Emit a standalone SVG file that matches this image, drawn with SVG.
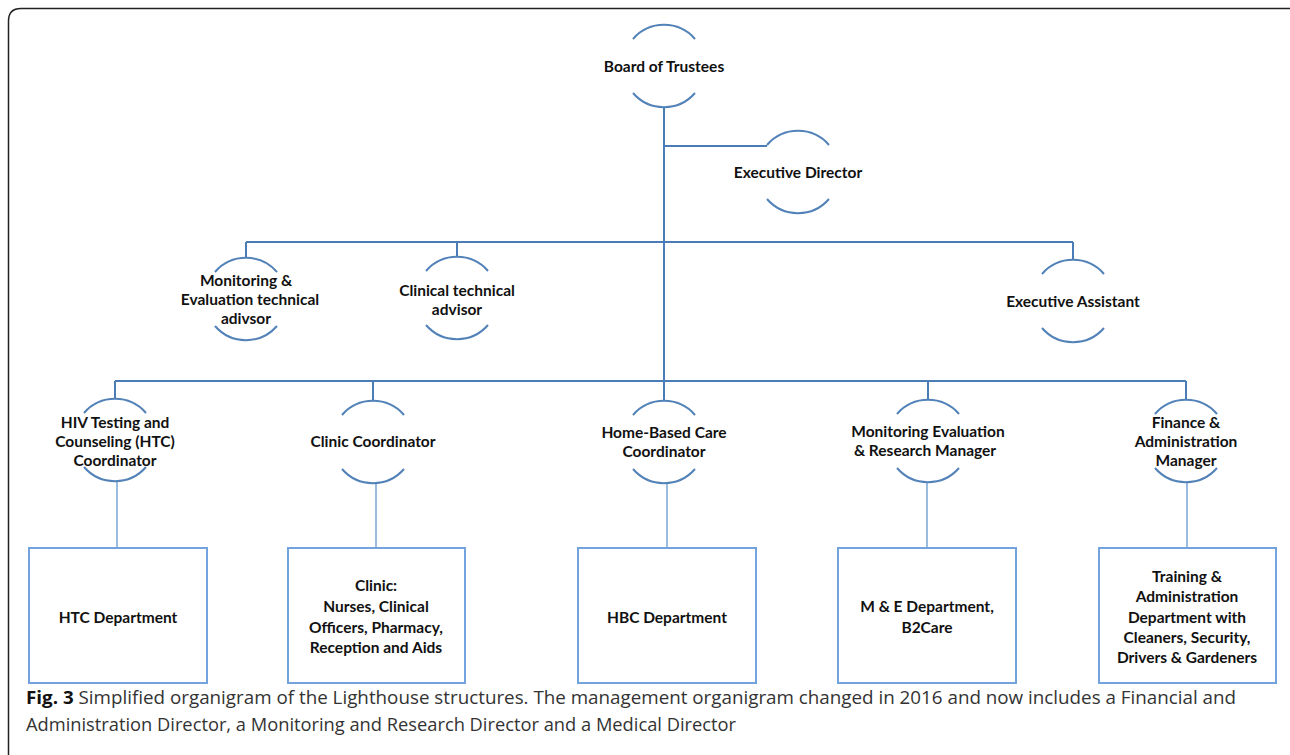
<svg xmlns="http://www.w3.org/2000/svg" xmlns:xlink="http://www.w3.org/1999/xlink" width="1290" height="755" viewBox="0 0 1290 755">
<style>
.arc{fill:none;stroke:#5282b8;stroke-width:2}
.bus{fill:none;stroke:#4a7cb5;stroke-width:2}
.drop{fill:none;stroke:#7aa6d8;stroke-width:1.5}
.box{fill:#fff;stroke:#72a3dc;stroke-width:2}
.t{font-family:Lato,"Liberation Sans",sans-serif;font-weight:bold;font-size:15.5px;fill:#111;text-anchor:middle;dominant-baseline:central}
.cap{font-family:"Open Sans","Liberation Sans",sans-serif;font-size:18.5px;fill:#333}
.frame{fill:none;stroke:#222;stroke-width:1.5}
</style>
<defs>
<path id="arcs" d="M -31 -27 A 41 41 0 0 1 31 -27 M -31 27 A 41 41 0 0 0 31 27"/>
</defs>
<rect width="1290" height="755" fill="#fff"/>
<path class="frame" d="M 8.5 755 V 21 Q 8.5 8.5 21 8.5 H 1290"/>
<g id="connectors">
<path class="bus" d="M 664 107 V 381"/>
<path class="bus" d="M 664 146 H 767"/>
<path class="bus" d="M 246 242 H 1073 M 246 242 V 258 M 457 242 V 256 M 1073 242 V 260"/>
<path class="bus" d="M 115 381 H 1186 M 115 381 V 399 M 373 381 V 401 M 664 381 V 401 M 928 381 V 400 M 1186 381 V 400"/>
<path class="drop" d="M 117 481 V 548 M 376 482 V 548 M 667 483 V 548 M 927 482 V 548 M 1187 482 V 548"/>
</g>
<g id="board"><use href="#arcs" x="664" y="66" class="arc"/><text class="t" x="664" y="66">Board of Trustees</text></g>
<g id="exec-director"><use href="#arcs" x="798" y="172" class="arc"/><text class="t" x="798" y="172">Executive Director</text></g>
<g id="me-advisor"><use href="#arcs" x="246" y="299" class="arc"/><text class="t" x="246" y="280">Monitoring &amp;</text><text class="t" x="250" y="299">Evaluation technical</text><text class="t" x="246" y="318">adivsor</text></g>
<g id="clinical-advisor"><use href="#arcs" x="457" y="298" class="arc"/><text class="t" x="457" y="290">Clinical technical</text><text class="t" x="457" y="309">advisor</text></g>
<g id="exec-assistant"><use href="#arcs" x="1073" y="301" class="arc"/><text class="t" x="1073" y="301">Executive Assistant</text></g>
<g id="htc-coord"><use href="#arcs" x="115" y="440" class="arc"/><text class="t" x="115" y="422">HIV Testing and</text><text class="t" x="115" y="441">Counseling (HTC)</text><text class="t" x="115" y="460">Coordinator</text></g>
<g id="clinic-coord"><use href="#arcs" x="373" y="442" class="arc"/><text class="t" x="373" y="441">Clinic Coordinator</text></g>
<g id="hbc-coord"><use href="#arcs" x="664" y="442" class="arc"/><text class="t" x="664" y="432">Home-Based Care</text><text class="t" x="664" y="451">Coordinator</text></g>
<g id="mer-manager"><use href="#arcs" x="928" y="441" class="arc"/><text class="t" x="928" y="431">Monitoring Evaluation</text><text class="t" x="925" y="450">&amp; Research Manager</text></g>
<g id="fa-manager"><use href="#arcs" x="1186" y="441" class="arc"/><text class="t" x="1186" y="422">Finance &amp;</text><text class="t" x="1186" y="441">Administration</text><text class="t" x="1186" y="460">Manager</text></g>
<g id="htc-dept"><rect class="box" x="29" y="548" width="178" height="135"/><text class="t" x="118" y="617">HTC Department</text></g>
<g id="clinic-dept"><rect class="box" x="288" y="548" width="177" height="135"/><text class="t" x="376" y="585">Clinic:</text><text class="t" x="376" y="606">Nurses, Clinical</text><text class="t" x="376" y="627">Officers, Pharmacy,</text><text class="t" x="376" y="647">Reception and Aids</text></g>
<g id="hbc-dept"><rect class="box" x="578" y="548" width="178" height="135"/><text class="t" x="667" y="617">HBC Department</text></g>
<g id="me-dept"><rect class="box" x="838" y="548" width="178" height="135"/><text class="t" x="927" y="606">M &amp; E Department,</text><text class="t" x="927" y="627">B2Care</text></g>
<g id="training-dept"><rect class="box" x="1099" y="548" width="177" height="135"/><text class="t" x="1187" y="576">Training &amp;</text><text class="t" x="1187" y="596">Administration</text><text class="t" x="1187" y="617">Department with</text><text class="t" x="1187" y="637">Cleaners, Security,</text><text class="t" x="1187" y="657">Drivers &amp; Gardeners</text></g>
<g id="caption">
<text class="cap" x="26" y="704" textLength="1210" lengthAdjust="spacingAndGlyphs"><tspan font-weight="bold" fill="#111">Fig. 3</tspan> Simplified organigram of the Lighthouse structures. The management organigram changed in 2016 and now includes a Financial and</text>
<text class="cap" x="26" y="731" textLength="710" lengthAdjust="spacingAndGlyphs">Administration Director, a Monitoring and Research Director and a Medical Director</text>
</g>
</svg>
